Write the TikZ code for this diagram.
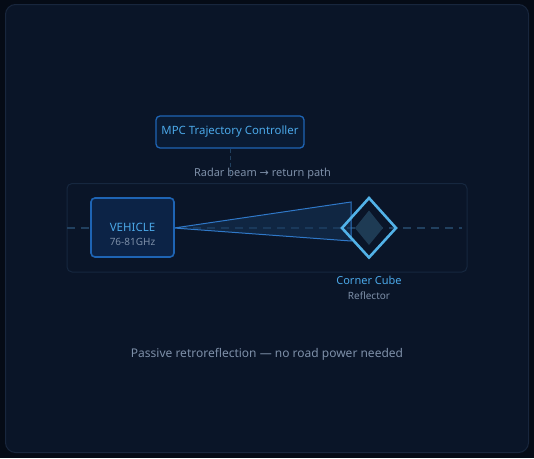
\documentclass[tikz,border=0pt]{standalone}
\usepackage{fontspec}
\setmainfont{Noto Sans}
\newfontfamily\symfont{DejaVu Sans}
\definecolor{outerbg}{HTML}{050B16}
\definecolor{panelbg}{HTML}{0A1528}
\definecolor{panelline}{HTML}{18263D}
\definecolor{bandline}{HTML}{16273F}
\definecolor{dashcol}{HTML}{21405F}
\definecolor{vehfill}{HTML}{0C2346}
\definecolor{boxline}{HTML}{1E64B4}
\definecolor{mpcfill}{HTML}{0A1B33}
\definecolor{beamline}{HTML}{2F78C8}
\definecolor{beamfill}{HTML}{153459}
\definecolor{dialine}{HTML}{52B2E8}
\definecolor{diafill}{HTML}{1E3B54}
\definecolor{lblue}{HTML}{4BA8E8}
\definecolor{lgray}{HTML}{7D8FA8}
\tikzset{
  boxstyle/.style={draw=boxline, line width=1.6pt, rounded corners=4pt},
  bluetxt/.style={text=lblue, font=\fontsize{11}{13}\selectfont, inner sep=0pt},
  graytxt/.style={text=lgray, font=\fontsize{10}{12}\selectfont, inner sep=0pt},
  dashline/.style={draw=dashcol, line width=1.2pt, dash pattern=on 8pt off 6pt}
}
\begin{document}
\begin{tikzpicture}[x=1pt,y=-1pt]
\useasboundingbox (0,0) rectangle (534,458);
\fill[outerbg] (0,0) rectangle (534,458);
\filldraw[fill=panelbg, draw=panelline, line width=1pt, rounded corners=10pt] (5.5,4.5) rectangle (528.5,452.5);
% band
\draw[bandline, line width=1pt, rounded corners=5pt] (67,183.5) rectangle (467,272);
% dashed centre line
\coordinate (dl) at (67,228);
\coordinate (dr) at (462,228);
\draw[dashline] (dl) -- (dr);
% beam
\coordinate (bt) at (174,228);
\coordinate (bu) at (351,202);
\coordinate (bd) at (351,241);
\filldraw[fill=beamfill, fill opacity=0.55, draw=beamline, line width=1pt] (bt) -- (bu) -- (bd) -- cycle;
% vehicle
\node[boxstyle, fill=vehfill, minimum width=83pt, minimum height=59pt] (veh) at (132.5,227.5) {};
\node[bluetxt, font=\fontsize{11.5}{13}\selectfont] (vehl) at (132.5,227) {VEHICLE};
\node[graytxt] (vehf) at (132.5,242) {76-81GHz};
% diamond
\fill[diafill] (369,210.5) -- (383,228) -- (369,245) -- (355,228) -- cycle;
\draw[dialine, line width=2.6pt, line join=miter] (369,198) -- (396,228) -- (369,257.5) -- (342,228) -- cycle;
\node (dia) at (369,228) {};
\node[bluetxt] (cc) at (369,280) {Corner Cube};
\node[graytxt] (refl) at (369,295.5) {Reflector};
% MPC
\node[boxstyle, fill=mpcfill, minimum width=148pt, minimum height=32pt, line width=1.3pt] (mpc) at (230,132) {};
\node[bluetxt, font=\fontsize{11.4}{13}\selectfont] (mpcl) at (230,132) {MPC Trajectory Controller};
\coordinate (mpcdown) at (230,178);
\draw[dashline, line width=1pt, dash pattern=on 4pt off 3pt] (mpc.south) -- (mpcdown);
\node[graytxt, font=\fontsize{11}{13}\selectfont] (radar) at (262.5,174) {Radar beam {\symfont →} return path};
% bottom text
\node[graytxt, font=\fontsize{12}{14}\selectfont] (bottom) at (267,354) {Passive retroreflection — no road power needed};
\end{tikzpicture}
\end{document}
